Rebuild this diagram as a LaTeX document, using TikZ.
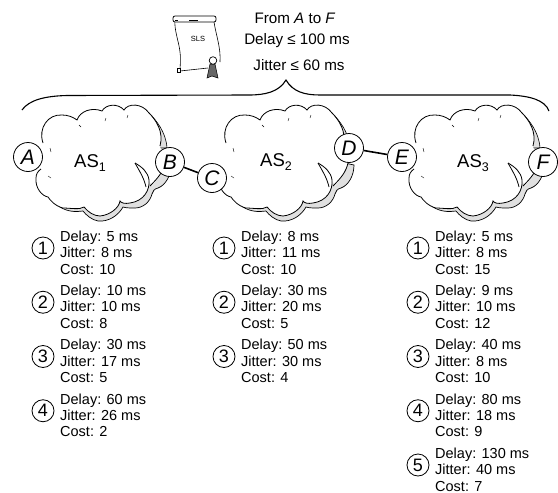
\documentclass[tikz,border=0pt]{standalone}
\usepackage{fontspec}
\setmainfont{Liberation Sans}
\newcommand{\fsz}[1]{\fontsize{#1}{#1}\selectfont}
\newcommand{\sbs}[1]{\raisebox{-4pt}{\fsz{12.5}#1}}
\newcommand{\cloudshape}{%
  \path[fill=black!12,draw=black,line width=0.7pt] (171,165) .. controls (171,175) and (166,185) .. (158,188)
    .. controls (154,189) and (153,191) .. (152,194)
    .. controls (150,202) and (143,208) .. (135,208) .. controls (130,208) and (126,208) .. (123,207)
    .. controls (118,216) and (108,222) .. (98,221) .. controls (92,220) and (86,215) .. (83,211)
    .. controls (76,212) and (68,212) .. (60,207) -- (100,150) -- cycle;
  \path[fill=black!12,draw=black,line width=0.6pt] (149,113) .. controls (156,120) and (166,132) .. (167,148) -- (160,148) -- cycle;
  \path[fill=white] (43,143) .. controls (38,128) and (48,114) .. (62,115) .. controls (68,115) and (73,117) .. (77,120)
    .. controls (80,111) and (92,107) .. (102,111) .. controls (106,104) and (118,103) .. (124,110)
    .. controls (128,103) and (142,103) .. (149,113) .. controls (156,120) and (164,132) .. (160,146)
    -- (165,163) .. controls (163,172) and (158,178) .. (152,186) -- (149,180) .. controls (150,190) and (144,201) .. (130,203) .. controls (125,204) and (121,203) .. (120,201)
    .. controls (119,208) and (110,215) .. (100,216) .. controls (94,216) and (88,212) .. (84,207)
    .. controls (80,210) and (70,208) .. (63,208) .. controls (55,206) and (50,200) .. (48,197)
    .. controls (42,196) and (35,188) .. (36,178) .. controls (36,174) and (38,171) .. (41,169) -- cycle;
  \draw[cloudline] (43,143) .. controls (38,128) and (48,114) .. (62,115) .. controls (68,115) and (73,117) .. (77,120)
    .. controls (80,111) and (92,107) .. (102,111) .. controls (106,104) and (118,103) .. (124,110)
    .. controls (128,103) and (142,103) .. (149,113) .. controls (156,120) and (164,132) .. (160,146);
  \draw[cloudline] (165,163) .. controls (163,172) and (158,178) .. (150,186);
  \draw[cloudline] (135,163) .. controls (142,167) and (148,172) .. (149,180) .. controls (150,190) and (144,201) .. (130,203)
    .. controls (125,204) and (121,203) .. (120,201)
    .. controls (119,208) and (110,215) .. (100,216) .. controls (94,216) and (88,212) .. (84,207)
    .. controls (80,210) and (70,208) .. (63,208) .. controls (55,206) and (50,200) .. (48,197)
    .. controls (42,196) and (35,188) .. (36,178) .. controls (36,174) and (38,171) .. (41,169);
  \draw[cloudline] (135,163) .. controls (140,172) and (144,178) .. (146,187);
  \draw[cloudline,line width=0.4pt] (50,148)--(51,152) (48,176)--(51,178) (106,118)--(105,121) (128,115)--(127,118) (79,125)--(81,127);
}
\tikzset{
  cloudline/.style={draw=black,line width=0.8pt},
  portnode/.style={circle,draw=black,fill=white,line width=0.8pt,minimum size=29pt,inner sep=0pt,font=\fsz{21}\itshape},
  numnode/.style={circle,draw=black,fill=white,line width=0.8pt,minimum size=22pt,inner sep=0pt,font=\fsz{18}},
  aslabel/.style={font=\fsz{18.5}},
  infotext/.style={align=left,anchor=west,inner sep=0pt,font=\fontsize{14.5}{16.4}\selectfont},
  headtext/.style={inner sep=0pt,font=\fsz{15.2}},
  linkline/.style={draw=black,line width=1.6pt},
  bracel/.style={draw=black,line width=1.1pt}
}
\newcommand{\opt}[6]{%
  \node[numnode] (#1) at (#2,#3) {#4};
  \node[infotext] (#1t) at (#2+17,#3+4.5) {#5\\#6};
}
\begin{document}
\begin{tikzpicture}[x=1pt,y=-1pt]
\useasboundingbox (0,0) rectangle (558,493);
% scroll
\draw[line width=0.6pt] (175,20) .. controls (174,30) and (179,42) .. (180,52) .. controls (181,60) and (180,66) .. (180,71)
  -- (208,68) (214,22) .. controls (216,35) and (221,48) .. (220,62);
\draw[line width=0.8pt,fill=white,rounded corners=2pt] (173,16) rectangle (216,22);
\draw[line width=0.8pt] (175,20)--(178,20) (189,20)--(198,20);
\draw[line width=0.7pt,fill=white] (177,68) rectangle (180.5,72);
\draw[line width=0.5pt,fill=black!60] (210,64) -- (207,78) -- (212,76) -- (218,78) -- (215,64) -- cycle;
\draw[line width=0.7pt,fill=white] (213,60.5) circle (3.8);
\node[inner sep=0pt,font=\fsz{7.5}] (sls) at (198,39) {SLS};
% header
\node[headtext] (h1) at (295,18) {From \textit{A} to \textit{F}};
\node[headtext] (h2) at (297,41) {Delay ≤ 100 ms};
\node[headtext] (h3) at (299,65) {Jitter ≤ 60 ms};
% brace
\draw[bracel] (22,110) .. controls (29,100) and (45,96) .. (67,95.5) -- (249,95) .. controls (265,95) and (279,92) .. (286,80)
  .. controls (293,92) and (305,95) .. (320,95) -- (510,95) .. controls (530,96) and (545,100) .. (549,111);
% clouds
\begin{scope}\cloudshape\end{scope}
\begin{scope}[xshift=183pt]\cloudshape\end{scope}
\begin{scope}[xshift=373pt]\cloudshape\end{scope}
\node[aslabel] (as1) at (90,163) {AS\sbs{1}};
\node[aslabel] (as2) at (276,162) {AS\sbs{2}};
\node[aslabel] (as3) at (473,163) {AS\sbs{3}};
% ports
\node[portnode] (A) at (28,157) {A};
\node[portnode] (B) at (170,162) {B};
\node[portnode] (C) at (212,178) {C};
\node[portnode] (D) at (349,148) {D};
\node[portnode] (E) at (402,157) {E};
\node[portnode] (F) at (543,162) {F};
\draw[linkline] (B) -- (C);
\draw[linkline] (D) -- (E);
% options
\opt{a1}{43}{248}{1}{Delay: 5 ms\\Jitter: 8 ms}{Cost: 10}
\opt{a2}{43}{302.25}{2}{Delay: 10 ms\\Jitter: 10 ms}{Cost: 8}
\opt{a3}{43}{356.5}{3}{Delay: 30 ms\\Jitter: 17 ms}{Cost: 5}
\opt{a4}{43}{410.75}{4}{Delay: 60 ms\\Jitter: 26 ms}{Cost: 2}
\opt{b1}{224}{248}{1}{Delay: 8 ms\\Jitter: 11 ms}{Cost: 10}
\opt{b2}{224}{302.25}{2}{Delay: 30 ms\\Jitter: 20 ms}{Cost: 5}
\opt{b3}{224}{356.5}{3}{Delay: 50 ms\\Jitter: 30 ms}{Cost: 4}
\opt{c1}{418}{248}{1}{Delay: 5 ms\\Jitter: 8 ms}{Cost: 15}
\opt{c2}{418}{302.25}{2}{Delay: 9 ms\\Jitter: 10 ms}{Cost: 12}
\opt{c3}{418}{356.5}{3}{Delay: 40 ms\\Jitter: 8 ms}{Cost: 10}
\opt{c4}{418}{410.75}{4}{Delay: 80 ms\\Jitter: 18 ms}{Cost: 9}
\opt{c5}{418}{465}{5}{Delay: 130 ms\\Jitter: 40 ms}{Cost: 7}
\end{tikzpicture}
\end{document}
